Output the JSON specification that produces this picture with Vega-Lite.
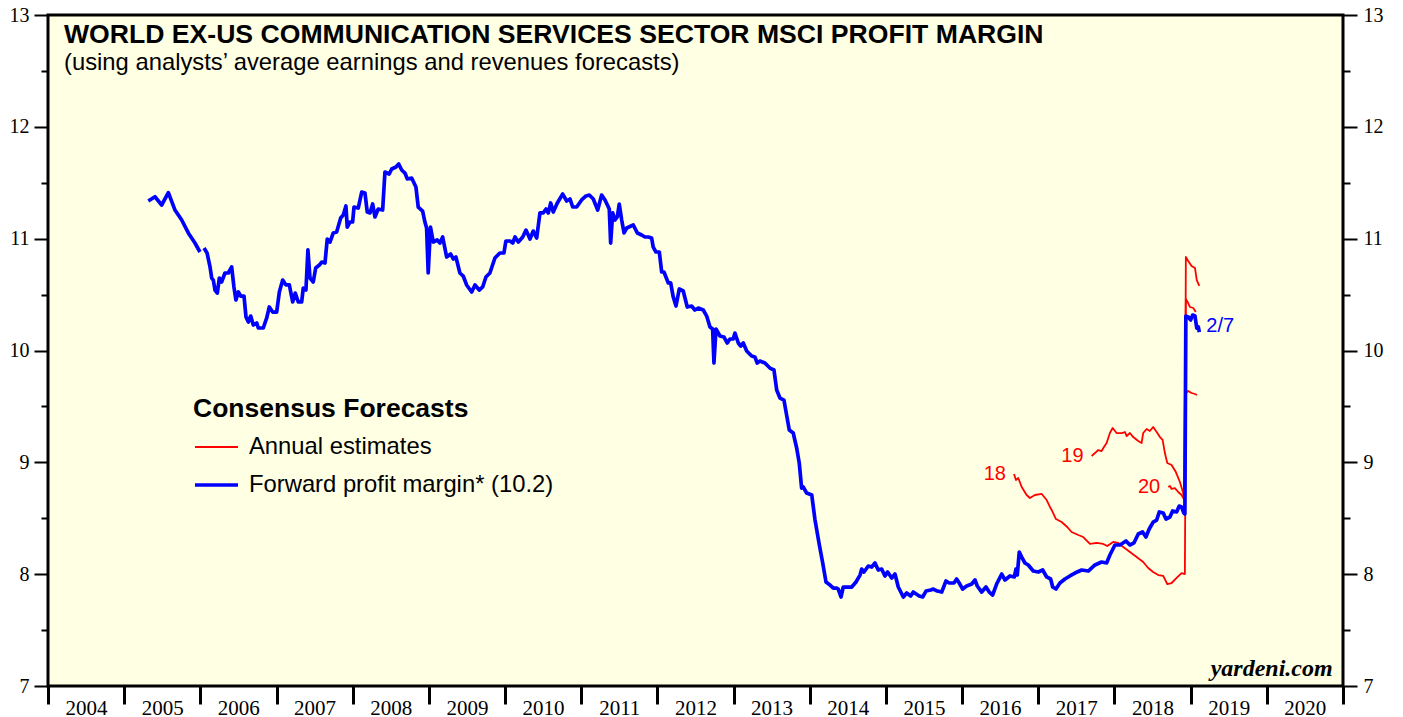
{
  "$schema": "https://vega.github.io/schema/vega-lite/v6.json",
  "width": 1295,
  "height": 671,
  "autosize": {"type": "none"},
  "padding": {"left": 48, "top": 15, "right": 60, "bottom": 31},
  "background": "white",
  "config": {
    "view": {"fill": "#ffffe4", "stroke": "black", "strokeWidth": 3},
    "font": "Liberation Sans"
  },
  "title": {
    "text": "WORLD EX-US COMMUNICATION SERVICES SECTOR MSCI PROFIT MARGIN",
    "subtitle": "(using analysts’ average earnings and revenues forecasts)",
    "anchor": "start",
    "frame": "group",
    "orient": "top",
    "offset": -70,
    "dx": 16,
    "font": "Liberation Sans",
    "fontSize": 26.6,
    "fontWeight": "bold",
    "color": "black",
    "subtitleFont": "Liberation Sans",
    "subtitleFontSize": 23.8,
    "subtitleColor": "black",
    "subtitlePadding": 3,
    "limit": 0
  },
  "resolve": {"axis": {"x": "independent", "y": "independent"}},
  "layer": [
    {
      "data": {"values": [
        {"line":"18","year":2016.681,"margin":8.896},{"line":"18","year":2016.707,"margin":8.842},{"line":"18","year":2016.737,"margin":8.860},{"line":"18","year":2016.782,"margin":8.779},{"line":"18","year":2016.847,"margin":8.708},{"line":"18","year":2016.890,"margin":8.681},{"line":"18","year":2016.956,"margin":8.708},{"line":"18","year":2017.045,"margin":8.717},{"line":"18","year":2017.110,"margin":8.663},{"line":"18","year":2017.153,"margin":8.601},{"line":"18","year":2017.175,"margin":8.574},{"line":"18","year":2017.232,"margin":8.493},{"line":"18","year":2017.306,"margin":8.466},{"line":"18","year":2017.380,"margin":8.422},{"line":"18","year":2017.437,"margin":8.377},{"line":"18","year":2017.525,"margin":8.350},{"line":"18","year":2017.590,"margin":8.332},{"line":"18","year":2017.678,"margin":8.270},{"line":"18","year":2017.766,"margin":8.279},{"line":"18","year":2017.852,"margin":8.270},{"line":"18","year":2017.905,"margin":8.252},{"line":"18","year":2017.983,"margin":8.288},{"line":"18","year":2018.050,"margin":8.279},{"line":"18","year":2018.115,"margin":8.243},{"line":"18","year":2018.203,"margin":8.198},{"line":"18","year":2018.291,"margin":8.153},{"line":"18","year":2018.377,"margin":8.109},{"line":"18","year":2018.443,"margin":8.055},{"line":"18","year":2018.508,"margin":8.019},{"line":"18","year":2018.575,"margin":7.992},{"line":"18","year":2018.640,"margin":7.984},{"line":"18","year":2018.693,"margin":7.912},{"line":"18","year":2018.750,"margin":7.921},{"line":"18","year":2018.816,"margin":7.966},{"line":"18","year":2018.881,"margin":8.010},{"line":"18","year":2018.924,"margin":8.001},{"line":"18","year":2018.937,"margin":9.620},{"line":"18","year":2018.968,"margin":9.638},{"line":"18","year":2019.012,"margin":9.620},{"line":"18","year":2019.057,"margin":9.611},{"line":"18","year":2019.084,"margin":9.602},
        {"line":"19","year":2017.700,"margin":9.057},{"line":"19","year":2017.744,"margin":9.083},{"line":"19","year":2017.787,"margin":9.110},{"line":"19","year":2017.831,"margin":9.101},{"line":"19","year":2017.862,"margin":9.137},{"line":"19","year":2017.897,"margin":9.173},{"line":"19","year":2017.940,"margin":9.262},{"line":"19","year":2017.976,"margin":9.307},{"line":"19","year":2018.028,"margin":9.262},{"line":"19","year":2018.094,"margin":9.262},{"line":"19","year":2018.138,"margin":9.271},{"line":"19","year":2018.160,"margin":9.235},{"line":"19","year":2018.203,"margin":9.262},{"line":"19","year":2018.246,"margin":9.226},{"line":"19","year":2018.312,"margin":9.191},{"line":"19","year":2018.356,"margin":9.173},{"line":"19","year":2018.377,"margin":9.262},{"line":"19","year":2018.422,"margin":9.298},{"line":"19","year":2018.465,"margin":9.280},{"line":"19","year":2018.508,"margin":9.316},{"line":"19","year":2018.554,"margin":9.271},{"line":"19","year":2018.597,"margin":9.226},{"line":"19","year":2018.632,"margin":9.200},{"line":"19","year":2018.662,"margin":9.083},{"line":"19","year":2018.693,"margin":8.994},{"line":"19","year":2018.750,"margin":8.976},{"line":"19","year":2018.806,"margin":8.913},{"line":"19","year":2018.859,"margin":8.824},{"line":"19","year":2018.902,"margin":8.726},{"line":"19","year":2018.924,"margin":8.663},{"line":"19","year":2018.937,"margin":10.836},{"line":"19","year":2018.968,"margin":10.800},{"line":"19","year":2019.012,"margin":10.756},{"line":"19","year":2019.057,"margin":10.738},{"line":"19","year":2019.080,"margin":10.630},{"line":"19","year":2019.114,"margin":10.577},
        {"line":"20","year":2018.706,"margin":8.779},{"line":"20","year":2018.728,"margin":8.788},{"line":"20","year":2018.750,"margin":8.762},{"line":"20","year":2018.793,"margin":8.770},{"line":"20","year":2018.837,"margin":8.735},{"line":"20","year":2018.881,"margin":8.708},{"line":"20","year":2018.911,"margin":8.672},{"line":"20","year":2018.937,"margin":10.461},{"line":"20","year":2018.960,"margin":10.434},{"line":"20","year":2018.990,"margin":10.389},{"line":"20","year":2019.035,"margin":10.380},{"line":"20","year":2019.067,"margin":10.344}
      ]},
      "mark": {"type": "line", "strokeJoin": "round"},
      "encoding": {
        "x": {"field": "year", "type": "quantitative",
          "scale": {"domain": [2004, 2021], "nice": false, "zero": false},
          "axis": {"orient": "bottom", "values": [2004,2005,2006,2007,2008,2009,2010,2011,2012,2013,2014,2015,2016,2017,2018,2019,2020,2021],
            "labelExpr": "datum.value == 2021 ? '' : format(datum.value, 'd')",
            "labelOffset": 38, "tickSize": 18, "tickWidth": 3, "tickColor": "black",
            "labelFont": "Liberation Serif", "labelFontSize": 21, "labelColor": "black",
            "labelBaseline": "alphabetic", "labelPadding": 10,
            "domain": false, "grid": false, "title": null, "labelFlush": false, "labelOverlap": false}},
        "y": {"field": "margin", "type": "quantitative",
          "scale": {"domain": [7, 13], "nice": false, "zero": false},
          "axis": {"orient": "left", "values": [7,7.5,8,8.5,9,9.5,10,10.5,11,11.5,12,12.5,13],
            "labelExpr": "datum.value % 1 === 0 ? format(datum.value, 'd') : ''",
            "tickSize": {"condition": {"test": "datum.value % 1 === 0", "value": 14}, "value": 7},
            "tickWidth": 2, "tickColor": "black",
            "labelFont": "Liberation Serif", "labelFontSize": 20, "labelColor": "black", "labelPadding": 5,
            "domain": false, "grid": false, "title": null, "labelFlush": false, "labelOverlap": false}},
        "detail": {"field": "line", "type": "nominal"},
        "color": {"datum": "Annual estimates", "type": "nominal",
          "scale": {"domain": ["Annual estimates", "Forward profit margin* (10.2)"], "range": ["#ff0000", "#0000ff"]},
          "legend": {"title": "Consensus Forecasts", "orient": "none", "legendX": 145, "legendY": 381, "direction": "vertical",
            "titleFont": "Liberation Sans", "titleFontSize": 26.5, "titleFontWeight": "bold", "titleColor": "black", "titlePadding": 2, "titleLimit": 0,
            "labelFont": "Liberation Sans", "labelFontSize": 23.8, "labelColor": "black", "labelOffset": 9, "labelLimit": 0,
            "symbolType": "stroke", "symbolSize": 1849, "rowPadding": 2, "padding": 0}},
        "strokeWidth": {"datum": "Annual estimates", "type": "ordinal",
          "scale": {"domain": ["Annual estimates", "Forward profit margin* (10.2)"], "range": [1.8, 3.7]}}
      }
    },
    {
      "data": {"values": [
        {"line":"fwd1","year":2005.317,"margin":11.337},{"line":"fwd1","year":2005.404,"margin":11.375},{"line":"fwd1","year":2005.492,"margin":11.301},{"line":"fwd1","year":2005.580,"margin":11.411},{"line":"fwd1","year":2005.667,"margin":11.256},{"line":"fwd1","year":2005.755,"margin":11.167},{"line":"fwd1","year":2005.842,"margin":11.051},{"line":"fwd1","year":2005.929,"margin":10.961},{"line":"fwd1","year":2005.995,"margin":10.881},
        {"line":"fwd2","year":2006.048,"margin":10.917},{"line":"fwd2","year":2006.088,"margin":10.872},{"line":"fwd2","year":2006.127,"margin":10.747},{"line":"fwd2","year":2006.149,"margin":10.648},{"line":"fwd2","year":2006.170,"margin":10.630},{"line":"fwd2","year":2006.192,"margin":10.541},{"line":"fwd2","year":2006.223,"margin":10.514},{"line":"fwd2","year":2006.249,"margin":10.648},{"line":"fwd2","year":2006.280,"margin":10.613},{"line":"fwd2","year":2006.323,"margin":10.693},{"line":"fwd2","year":2006.367,"margin":10.693},{"line":"fwd2","year":2006.411,"margin":10.747},{"line":"fwd2","year":2006.441,"margin":10.568},{"line":"fwd2","year":2006.467,"margin":10.452},{"line":"fwd2","year":2006.499,"margin":10.523},{"line":"fwd2","year":2006.530,"margin":10.487},{"line":"fwd2","year":2006.573,"margin":10.487},{"line":"fwd2","year":2006.599,"margin":10.300},{"line":"fwd2","year":2006.630,"margin":10.255},{"line":"fwd2","year":2006.661,"margin":10.308},{"line":"fwd2","year":2006.695,"margin":10.228},{"line":"fwd2","year":2006.740,"margin":10.246},{"line":"fwd2","year":2006.761,"margin":10.201},{"line":"fwd2","year":2006.826,"margin":10.201},{"line":"fwd2","year":2006.871,"margin":10.291},{"line":"fwd2","year":2006.905,"margin":10.389},{"line":"fwd2","year":2006.949,"margin":10.344},{"line":"fwd2","year":2007.002,"margin":10.344},{"line":"fwd2","year":2007.037,"margin":10.523},{"line":"fwd2","year":2007.081,"margin":10.630},{"line":"fwd2","year":2007.124,"margin":10.586},{"line":"fwd2","year":2007.168,"margin":10.586},{"line":"fwd2","year":2007.212,"margin":10.434},{"line":"fwd2","year":2007.246,"margin":10.514},{"line":"fwd2","year":2007.285,"margin":10.434},{"line":"fwd2","year":2007.330,"margin":10.434},{"line":"fwd2","year":2007.351,"margin":10.559},{"line":"fwd2","year":2007.386,"margin":10.541},{"line":"fwd2","year":2007.412,"margin":10.899},{"line":"fwd2","year":2007.439,"margin":10.648},{"line":"fwd2","year":2007.482,"margin":10.613},{"line":"fwd2","year":2007.514,"margin":10.738},{"line":"fwd2","year":2007.562,"margin":10.764},{"line":"fwd2","year":2007.593,"margin":10.791},{"line":"fwd2","year":2007.636,"margin":10.782},{"line":"fwd2","year":2007.666,"margin":10.997},{"line":"fwd2","year":2007.702,"margin":10.970},{"line":"fwd2","year":2007.745,"margin":11.051},{"line":"fwd2","year":2007.789,"margin":11.060},{"line":"fwd2","year":2007.842,"margin":11.185},{"line":"fwd2","year":2007.876,"margin":11.212},{"line":"fwd2","year":2007.911,"margin":11.292},{"line":"fwd2","year":2007.928,"margin":11.104},{"line":"fwd2","year":2007.964,"margin":11.149},{"line":"fwd2","year":2007.999,"margin":11.149},{"line":"fwd2","year":2008.017,"margin":11.283},{"line":"fwd2","year":2008.073,"margin":11.274},{"line":"fwd2","year":2008.118,"margin":11.417},{"line":"fwd2","year":2008.161,"margin":11.408},{"line":"fwd2","year":2008.191,"margin":11.238},{"line":"fwd2","year":2008.227,"margin":11.230},{"line":"fwd2","year":2008.262,"margin":11.310},{"line":"fwd2","year":2008.292,"margin":11.194},{"line":"fwd2","year":2008.335,"margin":11.265},{"line":"fwd2","year":2008.393,"margin":11.256},{"line":"fwd2","year":2008.423,"margin":11.596},{"line":"fwd2","year":2008.479,"margin":11.578},{"line":"fwd2","year":2008.512,"margin":11.623},{"line":"fwd2","year":2008.568,"margin":11.641},{"line":"fwd2","year":2008.604,"margin":11.668},{"line":"fwd2","year":2008.643,"margin":11.614},{"line":"fwd2","year":2008.686,"margin":11.587},{"line":"fwd2","year":2008.716,"margin":11.534},{"line":"fwd2","year":2008.774,"margin":11.542},{"line":"fwd2","year":2008.830,"margin":11.462},{"line":"fwd2","year":2008.860,"margin":11.283},{"line":"fwd2","year":2008.918,"margin":11.247},{"line":"fwd2","year":2008.948,"margin":11.149},{"line":"fwd2","year":2008.970,"margin":11.095},{"line":"fwd2","year":2008.991,"margin":10.693},{"line":"fwd2","year":2009.021,"margin":11.104},{"line":"fwd2","year":2009.058,"margin":10.970},{"line":"fwd2","year":2009.110,"margin":10.988},{"line":"fwd2","year":2009.145,"margin":10.961},{"line":"fwd2","year":2009.181,"margin":11.015},{"line":"fwd2","year":2009.233,"margin":10.836},{"line":"fwd2","year":2009.286,"margin":10.863},{"line":"fwd2","year":2009.320,"margin":10.818},{"line":"fwd2","year":2009.355,"margin":10.836},{"line":"fwd2","year":2009.407,"margin":10.693},{"line":"fwd2","year":2009.451,"margin":10.666},{"line":"fwd2","year":2009.495,"margin":10.586},{"line":"fwd2","year":2009.562,"margin":10.523},{"line":"fwd2","year":2009.605,"margin":10.586},{"line":"fwd2","year":2009.661,"margin":10.541},{"line":"fwd2","year":2009.706,"margin":10.568},{"line":"fwd2","year":2009.749,"margin":10.657},{"line":"fwd2","year":2009.801,"margin":10.693},{"line":"fwd2","year":2009.867,"margin":10.827},{"line":"fwd2","year":2009.932,"margin":10.872},{"line":"fwd2","year":2009.985,"margin":10.872},{"line":"fwd2","year":2010.011,"margin":10.979},{"line":"fwd2","year":2010.065,"margin":10.979},{"line":"fwd2","year":2010.101,"margin":10.961},{"line":"fwd2","year":2010.131,"margin":11.015},{"line":"fwd2","year":2010.174,"margin":10.970},{"line":"fwd2","year":2010.232,"margin":11.015},{"line":"fwd2","year":2010.275,"margin":11.077},{"line":"fwd2","year":2010.327,"margin":10.997},{"line":"fwd2","year":2010.370,"margin":11.068},{"line":"fwd2","year":2010.415,"margin":11.006},{"line":"fwd2","year":2010.458,"margin":11.230},{"line":"fwd2","year":2010.501,"margin":11.230},{"line":"fwd2","year":2010.538,"margin":11.265},{"line":"fwd2","year":2010.568,"margin":11.230},{"line":"fwd2","year":2010.599,"margin":11.319},{"line":"fwd2","year":2010.633,"margin":11.238},{"line":"fwd2","year":2010.686,"margin":11.319},{"line":"fwd2","year":2010.757,"margin":11.399},{"line":"fwd2","year":2010.809,"margin":11.337},{"line":"fwd2","year":2010.852,"margin":11.355},{"line":"fwd2","year":2010.888,"margin":11.283},{"line":"fwd2","year":2010.940,"margin":11.283},{"line":"fwd2","year":2011.005,"margin":11.346},{"line":"fwd2","year":2011.063,"margin":11.382},{"line":"fwd2","year":2011.106,"margin":11.390},{"line":"fwd2","year":2011.158,"margin":11.355},{"line":"fwd2","year":2011.216,"margin":11.256},{"line":"fwd2","year":2011.268,"margin":11.390},{"line":"fwd2","year":2011.312,"margin":11.346},{"line":"fwd2","year":2011.368,"margin":11.265},{"line":"fwd2","year":2011.386,"margin":10.961},{"line":"fwd2","year":2011.413,"margin":11.230},{"line":"fwd2","year":2011.443,"margin":11.167},{"line":"fwd2","year":2011.473,"margin":11.194},{"line":"fwd2","year":2011.499,"margin":11.310},{"line":"fwd2","year":2011.531,"margin":11.167},{"line":"fwd2","year":2011.562,"margin":11.051},{"line":"fwd2","year":2011.597,"margin":11.095},{"line":"fwd2","year":2011.683,"margin":11.122},{"line":"fwd2","year":2011.736,"margin":11.051},{"line":"fwd2","year":2011.793,"margin":11.033},{"line":"fwd2","year":2011.837,"margin":11.015},{"line":"fwd2","year":2011.880,"margin":11.015},{"line":"fwd2","year":2011.924,"margin":11.006},{"line":"fwd2","year":2011.945,"margin":10.925},{"line":"fwd2","year":2011.981,"margin":10.881},{"line":"fwd2","year":2012.025,"margin":10.881},{"line":"fwd2","year":2012.056,"margin":10.702},{"line":"fwd2","year":2012.086,"margin":10.702},{"line":"fwd2","year":2012.143,"margin":10.604},{"line":"fwd2","year":2012.174,"margin":10.604},{"line":"fwd2","year":2012.208,"margin":10.478},{"line":"fwd2","year":2012.244,"margin":10.398},{"line":"fwd2","year":2012.287,"margin":10.550},{"line":"fwd2","year":2012.339,"margin":10.532},{"line":"fwd2","year":2012.392,"margin":10.389},{"line":"fwd2","year":2012.449,"margin":10.398},{"line":"fwd2","year":2012.492,"margin":10.362},{"line":"fwd2","year":2012.537,"margin":10.380},{"line":"fwd2","year":2012.602,"margin":10.362},{"line":"fwd2","year":2012.647,"margin":10.308},{"line":"fwd2","year":2012.690,"margin":10.210},{"line":"fwd2","year":2012.725,"margin":10.192},{"line":"fwd2","year":2012.742,"margin":9.888},{"line":"fwd2","year":2012.769,"margin":10.192},{"line":"fwd2","year":2012.821,"margin":10.130},{"line":"fwd2","year":2012.873,"margin":10.121},{"line":"fwd2","year":2012.917,"margin":10.067},{"line":"fwd2","year":2012.952,"margin":10.103},{"line":"fwd2","year":2012.995,"margin":10.103},{"line":"fwd2","year":2013.018,"margin":10.156},{"line":"fwd2","year":2013.062,"margin":10.067},{"line":"fwd2","year":2013.093,"margin":10.040},{"line":"fwd2","year":2013.127,"margin":10.067},{"line":"fwd2","year":2013.172,"margin":9.996},{"line":"fwd2","year":2013.237,"margin":9.951},{"line":"fwd2","year":2013.280,"margin":9.942},{"line":"fwd2","year":2013.310,"margin":9.888},{"line":"fwd2","year":2013.346,"margin":9.906},{"line":"fwd2","year":2013.411,"margin":9.888},{"line":"fwd2","year":2013.477,"margin":9.843},{"line":"fwd2","year":2013.530,"margin":9.826},{"line":"fwd2","year":2013.566,"margin":9.647},{"line":"fwd2","year":2013.609,"margin":9.575},{"line":"fwd2","year":2013.661,"margin":9.557},{"line":"fwd2","year":2013.696,"margin":9.423},{"line":"fwd2","year":2013.731,"margin":9.289},{"line":"fwd2","year":2013.783,"margin":9.262},{"line":"fwd2","year":2013.828,"margin":9.128},{"line":"fwd2","year":2013.862,"margin":8.994},{"line":"fwd2","year":2013.893,"margin":8.770},{"line":"fwd2","year":2013.914,"margin":8.779},{"line":"fwd2","year":2013.959,"margin":8.726},{"line":"fwd2","year":2014.026,"margin":8.708},{"line":"fwd2","year":2014.069,"margin":8.484},{"line":"fwd2","year":2014.126,"margin":8.261},{"line":"fwd2","year":2014.170,"margin":8.100},{"line":"fwd2","year":2014.213,"margin":7.930},{"line":"fwd2","year":2014.266,"margin":7.903},{"line":"fwd2","year":2014.309,"margin":7.876},{"line":"fwd2","year":2014.353,"margin":7.876},{"line":"fwd2","year":2014.374,"margin":7.867},{"line":"fwd2","year":2014.410,"margin":7.796},{"line":"fwd2","year":2014.440,"margin":7.885},{"line":"fwd2","year":2014.484,"margin":7.885},{"line":"fwd2","year":2014.551,"margin":7.885},{"line":"fwd2","year":2014.607,"margin":7.930},{"line":"fwd2","year":2014.660,"margin":7.992},{"line":"fwd2","year":2014.682,"margin":8.046},{"line":"fwd2","year":2014.712,"margin":8.019},{"line":"fwd2","year":2014.768,"margin":8.073},{"line":"fwd2","year":2014.813,"margin":8.064},{"line":"fwd2","year":2014.856,"margin":8.100},{"line":"fwd2","year":2014.899,"margin":8.037},{"line":"fwd2","year":2014.944,"margin":8.046},{"line":"fwd2","year":2014.987,"margin":7.984},{"line":"fwd2","year":2015.022,"margin":8.019},{"line":"fwd2","year":2015.076,"margin":7.966},{"line":"fwd2","year":2015.119,"margin":8.001},{"line":"fwd2","year":2015.162,"margin":7.885},{"line":"fwd2","year":2015.228,"margin":7.796},{"line":"fwd2","year":2015.272,"margin":7.832},{"line":"fwd2","year":2015.325,"margin":7.805},{"line":"fwd2","year":2015.359,"margin":7.840},{"line":"fwd2","year":2015.437,"margin":7.805},{"line":"fwd2","year":2015.482,"margin":7.796},{"line":"fwd2","year":2015.526,"margin":7.849},{"line":"fwd2","year":2015.588,"margin":7.858},{"line":"fwd2","year":2015.622,"margin":7.867},{"line":"fwd2","year":2015.674,"margin":7.849},{"line":"fwd2","year":2015.732,"margin":7.840},{"line":"fwd2","year":2015.788,"margin":7.939},{"line":"fwd2","year":2015.831,"margin":7.921},{"line":"fwd2","year":2015.893,"margin":7.921},{"line":"fwd2","year":2015.928,"margin":7.957},{"line":"fwd2","year":2015.962,"margin":7.921},{"line":"fwd2","year":2016.007,"margin":7.867},{"line":"fwd2","year":2016.060,"margin":7.894},{"line":"fwd2","year":2016.126,"margin":7.912},{"line":"fwd2","year":2016.169,"margin":7.948},{"line":"fwd2","year":2016.199,"margin":7.894},{"line":"fwd2","year":2016.257,"margin":7.840},{"line":"fwd2","year":2016.313,"margin":7.885},{"line":"fwd2","year":2016.356,"margin":7.840},{"line":"fwd2","year":2016.401,"margin":7.814},{"line":"fwd2","year":2016.453,"margin":7.912},{"line":"fwd2","year":2016.520,"margin":8.001},{"line":"fwd2","year":2016.563,"margin":7.948},{"line":"fwd2","year":2016.628,"margin":7.984},{"line":"fwd2","year":2016.685,"margin":7.975},{"line":"fwd2","year":2016.707,"margin":8.046},{"line":"fwd2","year":2016.724,"margin":7.992},{"line":"fwd2","year":2016.750,"margin":8.198},{"line":"fwd2","year":2016.782,"margin":8.153},{"line":"fwd2","year":2016.825,"margin":8.100},{"line":"fwd2","year":2016.868,"margin":8.082},{"line":"fwd2","year":2016.934,"margin":8.028},{"line":"fwd2","year":2016.999,"margin":8.019},{"line":"fwd2","year":2017.058,"margin":8.037},{"line":"fwd2","year":2017.110,"margin":7.975},{"line":"fwd2","year":2017.162,"margin":7.957},{"line":"fwd2","year":2017.189,"margin":7.885},{"line":"fwd2","year":2017.232,"margin":7.867},{"line":"fwd2","year":2017.284,"margin":7.921},{"line":"fwd2","year":2017.350,"margin":7.957},{"line":"fwd2","year":2017.415,"margin":7.984},{"line":"fwd2","year":2017.481,"margin":8.010},{"line":"fwd2","year":2017.569,"margin":8.037},{"line":"fwd2","year":2017.656,"margin":8.028},{"line":"fwd2","year":2017.744,"margin":8.082},{"line":"fwd2","year":2017.831,"margin":8.109},{"line":"fwd2","year":2017.897,"margin":8.100},{"line":"fwd2","year":2017.940,"margin":8.171},{"line":"fwd2","year":2018.006,"margin":8.261},{"line":"fwd2","year":2018.072,"margin":8.261},{"line":"fwd2","year":2018.151,"margin":8.297},{"line":"fwd2","year":2018.203,"margin":8.261},{"line":"fwd2","year":2018.255,"margin":8.279},{"line":"fwd2","year":2018.312,"margin":8.359},{"line":"fwd2","year":2018.369,"margin":8.377},{"line":"fwd2","year":2018.413,"margin":8.332},{"line":"fwd2","year":2018.456,"margin":8.404},{"line":"fwd2","year":2018.508,"margin":8.466},{"line":"fwd2","year":2018.554,"margin":8.484},{"line":"fwd2","year":2018.588,"margin":8.556},{"line":"fwd2","year":2018.640,"margin":8.547},{"line":"fwd2","year":2018.676,"margin":8.493},{"line":"fwd2","year":2018.728,"margin":8.511},{"line":"fwd2","year":2018.763,"margin":8.565},{"line":"fwd2","year":2018.816,"margin":8.556},{"line":"fwd2","year":2018.850,"margin":8.609},{"line":"fwd2","year":2018.881,"margin":8.601},{"line":"fwd2","year":2018.911,"margin":8.547},{"line":"fwd2","year":2018.924,"margin":8.538},{"line":"fwd2","year":2018.937,"margin":10.308},{"line":"fwd2","year":2018.968,"margin":10.300},{"line":"fwd2","year":2018.999,"margin":10.273},{"line":"fwd2","year":2019.027,"margin":10.317},{"line":"fwd2","year":2019.057,"margin":10.308},{"line":"fwd2","year":2019.080,"margin":10.201},{"line":"fwd2","year":2019.101,"margin":10.210},{"line":"fwd2","year":2019.114,"margin":10.165}
      ]},
      "mark": {"type": "line", "strokeJoin": "round"},
      "encoding": {
        "x": {"field": "year", "type": "quantitative", "axis": null},
        "y": {"field": "margin", "type": "quantitative",
          "axis": {"orient": "right", "values": [7,7.5,8,8.5,9,9.5,10,10.5,11,11.5,12,12.5,13],
            "labelExpr": "datum.value % 1 === 0 ? format(datum.value, 'd') : ''",
            "tickSize": {"condition": {"test": "datum.value % 1 === 0", "value": 14}, "value": 7},
            "tickWidth": 2, "tickColor": "black",
            "labelFont": "Liberation Serif", "labelFontSize": 20, "labelColor": "black", "labelPadding": 6,
            "domain": false, "grid": false, "title": null, "labelFlush": false, "labelOverlap": false}},
        "detail": {"field": "line", "type": "nominal"},
        "color": {"datum": "Forward profit margin* (10.2)", "type": "nominal",
          "scale": {"domain": ["Annual estimates", "Forward profit margin* (10.2)"], "range": ["#ff0000", "#0000ff"]}},
        "strokeWidth": {"datum": "Forward profit margin* (10.2)", "type": "ordinal",
          "scale": {"domain": ["Annual estimates", "Forward profit margin* (10.2)"], "range": [1.8, 3.7]}}
      }
    },
    {
      "data": {"values": [
        {"label": "18", "year": 2016.681, "margin": 8.896},
        {"label": "19", "year": 2017.700, "margin": 9.057},
        {"label": "20", "year": 2018.706, "margin": 8.779}
      ]},
      "mark": {"type": "text", "align": "right", "baseline": "middle", "dx": -8, "font": "Liberation Sans", "fontSize": 20, "color": "#ff0000"},
      "encoding": {
        "x": {"field": "year", "type": "quantitative", "axis": null},
        "y": {"field": "margin", "type": "quantitative", "axis": null},
        "text": {"field": "label"}
      }
    },
    {
      "data": {"values": [
        {"label": "2/7", "year": 2019.114, "margin": 10.165}
      ]},
      "mark": {"type": "text", "align": "left", "baseline": "middle", "dx": 7, "dy": -6, "font": "Liberation Sans", "fontSize": 20, "color": "#0000ff"},
      "encoding": {
        "x": {"field": "year", "type": "quantitative", "axis": null},
        "y": {"field": "margin", "type": "quantitative", "axis": null},
        "text": {"field": "label"}
      }
    },
    {
      "data": {"values": [{}]},
      "mark": {"type": "text", "text": "yardeni.com", "align": "right", "baseline": "alphabetic", "font": "Liberation Serif", "fontStyle": "italic", "fontWeight": "bold", "fontSize": 24, "color": "black"},
      "encoding": {
        "x": {"datum": 2020.864, "type": "quantitative", "axis": null},
        "y": {"datum": 7.092, "type": "quantitative", "axis": null}
      }
    }
  ]
}
